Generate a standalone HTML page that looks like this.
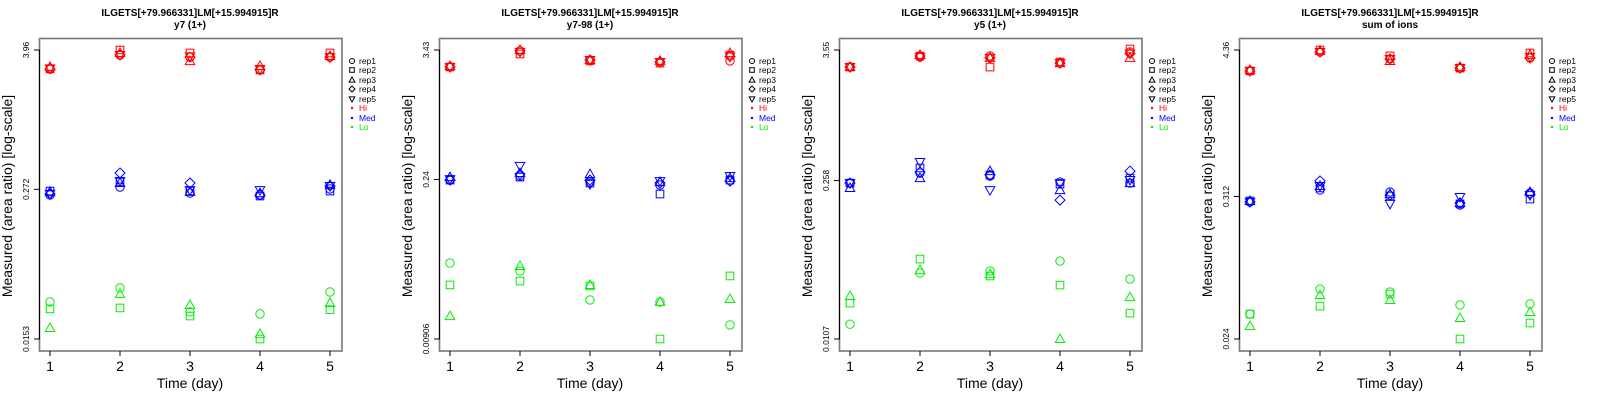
<!DOCTYPE html>
<html><head><meta charset="utf-8"><style>
html,body{margin:0;padding:0;background:#fff;}
svg{display:block;font-family:"Liberation Sans",Arial,sans-serif;}
</style></head><body>
<svg id="chart" width="1600" height="400" viewBox="0 0 1600 400" xmlns="http://www.w3.org/2000/svg"></svg>
<script>
const days = [1,2,3,4,5];
const titles = ["y7 (1+)","y7-98 (1+)","y5 (1+)","sum of ions"];
const peptide = "ILGETS[+79.966331]LM[+15.994915]R";
const tickTop = [3.96,3.43,3.55,4.36];
const tickMid = [0.272,0.24,0.258,0.312];
const tickBot = [0.0153,0.00906,0.0107,0.024];
const tickLabelsTop = ["3.96","3.43","3.55","4.36"];
const tickLabelsMid = ["0.272","0.24","0.258","0.312"];
const tickLabelsBot = ["0.0153","0.00906","0.0107","0.024"];
const groups = ["Hi","Med","Lo"];
const groupColors = ["#ff0000","#0000ff","#00ee00"];
const reps = ["rep1","rep2","rep3","rep4","rep5"];

// panel 1
const p1Hi = [[2.75,3.60,3.45,2.70,3.45],[2.75,3.96,3.74,2.70,3.74],[2.86,3.74,3.20,2.91,3.53],[2.75,3.60,3.45,2.70,3.45],[2.78,3.60,3.50,2.75,3.45]];
const p1Med = [[.244,.284,.253,.244,.274],[.263,.313,.263,.239,.263],[.259,.307,.259,.253,.296],[.249,.372,.307,.244,.290],[.249,.319,.268,.268,.290]];
const p1Lo = [[.0312,.0408,.0258,.0248,.0378],[.0273,.0278,.0238,.0153,.0269],[.0189,.0364,.0294,.0169,.0306]];
// panel 2
const p2Hi = [[2.42,3.36,2.79,2.68,2.74],[2.42,3.16,2.74,2.62,3.09],[2.47,3.43,2.79,2.74,3.22],[2.42,3.36,2.79,2.68,3.00],[2.42,3.30,2.79,2.68,3.00]];
const p2Med = [[.237,.258,.228,.214,.237],[.237,.252,.223,.178,.237],[.252,.274,.268,.228,.247],[.237,.268,.237,.223,.232],[.242,.317,.218,.232,.258]];
const p2Lo = [[.0432,.0366,.0202,.0194,.0121],[.0275,.0298,.0269,.00906,.0331],[.0145,.0406,.0275,.0194,.0206]];
// panel 3
const p3Hi = [[2.52,3.09,3.15,2.73,3.41],[2.52,3.15,2.52,2.79,3.62],[2.52,3.21,3.03,2.73,3.03],[2.52,3.15,3.03,2.73,3.30],[2.52,3.09,3.03,2.73,3.30]];
const p3Med = [[.245,.300,.282,.250,.245],[.245,.332,.288,.240,.271],[.222,.271,.312,.213,.245],[.245,.306,.288,.174,.312],[.245,.374,.213,.245,.261]];
const p3Lo = [[.0144,.0402,.0419,.0512,.0357],[.0220,.0533,.0379,.0316,.0180],[.0253,.0427,.0394,.0107,.0248]];
// panel 4
const p4Hi = [[2.99,4.21,3.71,3.15,3.78],[2.99,4.36,3.92,3.15,4.13],[3.04,4.29,3.58,3.22,3.99],[2.99,4.21,3.71,3.15,3.78],[2.99,4.21,3.71,3.15,3.85]];
const p4Med = [[.283,.351,.338,.268,.332],[.288,.364,.315,.273,.298],[.288,.377,.326,.278,.338],[.283,.413,.320,.278,.326],[.283,.377,.273,.309,.320]];
const p4Lo = [[.0376,.0590,.0559,.0443,.0451],[.0376,.0434,.0539,.0240,.0320],[.0303,.0529,.0484,.0350,.0390]];

const panelData = [[p1Hi,p1Med,p1Lo],[p2Hi,p2Med,p2Lo],[p3Hi,p3Med,p3Lo],[p4Hi,p4Med,p4Lo]];

const NS = "http://www.w3.org/2000/svg";
const svg = document.getElementById("chart");
function mk(tag, attrs, parent){
  const e = document.createElementNS(NS, tag);
  for (const k in attrs) e.setAttribute(k, attrs[k]);
  parent.appendChild(e);
  return e;
}
function marker(parent, shape, cx, cy, color, s){
  let e;
  if (shape===0) e = mk("circle",{cx:cx,cy:cy,r:4.2*s,fill:"none",stroke:color,"stroke-width":1},parent);
  else if (shape===1) e = mk("rect",{x:cx-3.8*s,y:cy-3.8*s,width:7.6*s,height:7.6*s,fill:"none",stroke:color,"stroke-width":1},parent);
  else if (shape===2){const r=5*s;e = mk("polygon",{points:`${cx},${cy-r} ${cx+r*0.95},${cy+r*0.7} ${cx-r*0.95},${cy+r*0.7}`,fill:"none",stroke:color,"stroke-width":1},parent);}
  else if (shape===3){const r=5*s;e = mk("polygon",{points:`${cx},${cy-r} ${cx+r},${cy} ${cx},${cy+r} ${cx-r},${cy}`,fill:"none",stroke:color,"stroke-width":1},parent);}
  else {const r=5*s;e = mk("polygon",{points:`${cx},${cy+r} ${cx+r*0.95},${cy-r*0.7} ${cx-r*0.95},${cy-r*0.7}`,fill:"none",stroke:color,"stroke-width":1},parent);}
  return e;
}

for (let p=0;p<4;p++){
  const ox = p*400;
  const g = mk("g",{transform:`translate(${ox},0)`},svg);
  
  
  const top = tickTop[p], bot = tickBot[p];
  const yScale = v => 50 + (Math.log10(top) - Math.log10(v)) / (Math.log10(top) - Math.log10(bot)) * 289;
  const xScale = d => 50 + (d-1)*70;

  const t1 = mk("text",{x:190,y:16,"text-anchor":"middle","font-size":"10","font-weight":"bold"},g);
  t1.textContent = peptide;
  
  
  const t2 = mk("text",{x:190,y:28,"text-anchor":"middle","font-size":"10","font-weight":"bold"},g);
  t2.textContent = titles[p];
  
  

  const box = mk("rect",{x:39.5,y:38.5,width:302.5,height:312.5,fill:"none",stroke:"#777","stroke-width":1.6},g);
  
  

  const xa = mk("g",{},g);
  
  
  days.forEach(d=>{
    const x = xScale(d);
    mk("line",{x1:x,y1:351,x2:x,y2:356,stroke:"#000","stroke-width":1},xa);
    const tl = mk("text",{x:x,y:371,"text-anchor":"middle","font-size":"14"},xa);
    tl.textContent = d;
    
    
  });
  const xt = mk("text",{x:190,y:388,"text-anchor":"middle","font-size":"14"},g);
  xt.textContent = "Time (day)";
  
  

  const ya = mk("g",{},g);
  
  
  const tv = [tickTop[p],tickMid[p],tickBot[p]];
  const tl = [tickLabelsTop[p],tickLabelsMid[p],tickLabelsBot[p]];
  for (let i=0;i<3;i++){
    const y = yScale(tv[i]);
    mk("line",{x1:34,y1:y,x2:39.5,y2:y,stroke:"#000","stroke-width":1},ya);
    const lab = mk("text",{x:0,y:0,"text-anchor":"middle","font-size":"8.5",transform:`translate(29,${y}) rotate(-90)`},ya);
    lab.textContent = tl[i];
    
    
  }
  mk("line",{x1:39.5,y1:yScale(tv[0]),x2:39.5,y2:yScale(tv[2]),stroke:"#000","stroke-width":1},ya);
  const yt = mk("text",{x:0,y:0,"text-anchor":"middle","font-size":"14",transform:`translate(12,196) rotate(-90)`},g);
  yt.textContent = "Measured (area ratio) [log-scale]";
  
  

  const pts = mk("g",{},g);
  
  
  panelData[p].forEach((grp,gi)=>{
    grp.forEach((series,ri)=>{
      series.forEach((v,di)=>{
        const m = marker(pts, ri, xScale(days[di]), yScale(v), groupColors[gi], 1);
        
        
      });
    });
  });

  const lg = mk("g",{},g);
  
  
  const rowsY = [61,70,80,89,99,108,118,127];
  reps.forEach((r,i)=>{
    const m = marker(lg, i, 352, rowsY[i], "#000", 0.6);
    
    
    const t = mk("text",{x:359,y:rowsY[i]+3,"font-size":"8.5"},lg);
    t.textContent = r;
    
    
  });
  groups.forEach((gname,i)=>{
    const y = rowsY[5+i];
    mk("circle",{cx:352,cy:y,r:1.2,fill:groupColors[i]},lg);
    const t = mk("text",{x:359,y:y+3,"font-size":"8.5",fill:groupColors[i]},lg);
    t.textContent = gname;
    
    
  });
}
</script>
</body></html>
